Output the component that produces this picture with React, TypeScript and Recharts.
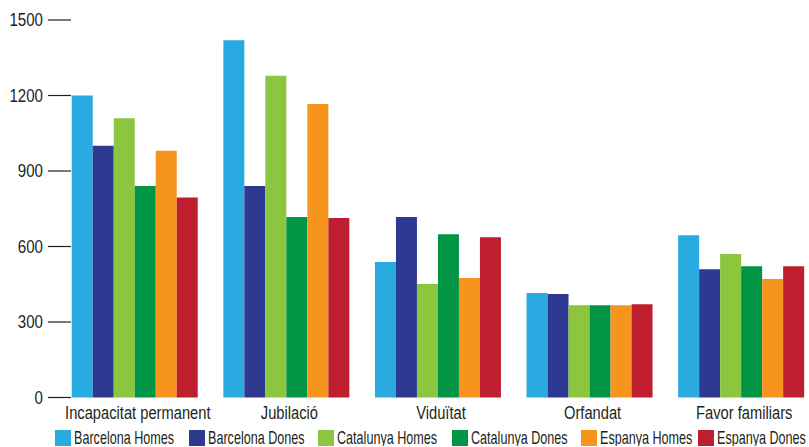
import React from "react"
import { Bar, BarChart, Legend, XAxis, YAxis } from "recharts"

const categories = ["Incapacitat permanent", "Jubilació", "Viduïtat", "Orfandat", "Favor familiars"]
const barcelonaHomes = [1200, 1420, 538, 415, 645]
const barcelonaDones = [1000, 840, 717, 411, 510]
const catalunyaHomes = [1110, 1278, 451, 367, 570]
const catalunyaDones = [840, 717, 649, 367, 522]
const espanyaHomes = [980, 1166, 475, 367, 471]
const espanyaDones = [795, 713, 637, 371, 522]
const yTicks = [0, 300, 600, 900, 1200, 1500]

const series = [
  { key: "bh", name: "Barcelona Homes", values: barcelonaHomes, color: "#29abe2" },
  { key: "bd", name: "Barcelona Dones", values: barcelonaDones, color: "#2e3a91" },
  { key: "ch", name: "Catalunya Homes", values: catalunyaHomes, color: "#8cc63f" },
  { key: "cd", name: "Catalunya Dones", values: catalunyaDones, color: "#009444" },
  { key: "eh", name: "Espanya Homes", values: espanyaHomes, color: "#f7941d" },
  { key: "ed", name: "Espanya Dones", values: espanyaDones, color: "#be1e2d" },
]

// x of each legend swatch
const legendX = [55, 189, 318, 452, 581, 698]

const data = categories.map((name, i) => {
  const row: Record<string, string | number> = { name }
  series.forEach((s) => {
    row[s.key] = s.values[i]
  })
  return row
})

const FONT = "'Liberation Sans', Arial, sans-serif"
const INK = "#231f20"

const YTick = (props: any) => {
  const { x, y, payload } = props
  return (
    <g>
      <line x1={x - 12} x2={x + 11} y1={y} y2={y} stroke={INK} strokeWidth={1.2} />
      <text
        transform={`translate(${x - 17},${y}) scale(0.84,1)`}
        dy="0.36em"
        textAnchor="end"
        fill={INK}
        fontSize={18}
        fontFamily={FONT}
      >
        {payload.value}
      </text>
    </g>
  )
}

const XTick = (props: any) => {
  const { x, y, payload } = props
  return (
    <text
      transform={`translate(${x + 2},${y + 13.5}) scale(0.84,1)`}
      textAnchor="middle"
      fill={INK}
      fontSize={17.5}
      fontFamily={FONT}
    >
      {payload.value}
    </text>
  )
}

const LegendBox = () => (
  <svg width={809} height={20} style={{ display: "block" }}>
    {series.map((s, i) => (
      <g key={s.key}>
        <rect x={legendX[i]} y={4} width={16} height={16} fill={s.color} />
        <text
          transform={`translate(${legendX[i] + 19},18) scale(0.72,1)`}
          fill={INK}
          fontSize={17.5}
          fontFamily={FONT}
        >
          {s.name}
        </text>
      </g>
    ))}
  </svg>
)

const App = () => {
  return (
    <div style={{ position: "absolute", left: 0, top: 0, width: 809, height: 447, overflow: "hidden", background: "#fff" }}>
      <BarChart
        width={818}
        height={447}
        data={data}
        margin={{ top: 20, right: 0, left: 0, bottom: 1.5 }}
        barCategoryGap="7.75%"
        barGap={0}
      >
        <XAxis dataKey="name" axisLine={false} tickLine={false} height={28} tick={<XTick />} />
        <YAxis
          width={60}
          domain={[0, 1500]}
          ticks={yTicks}
          axisLine={false}
          tickLine={false}
          tickSize={0}
          tickMargin={0}
          tick={<YTick />}
        />
        <Legend
          verticalAlign="bottom"
          content={<LegendBox />}
          wrapperStyle={{ left: 0, width: 809, height: 20 }}
        />
        {series.map((s) => (
          <Bar key={s.key} dataKey={s.key} name={s.name} fill={s.color} isAnimationActive={false} />
        ))}
      </BarChart>
    </div>
  )
}

export default App
